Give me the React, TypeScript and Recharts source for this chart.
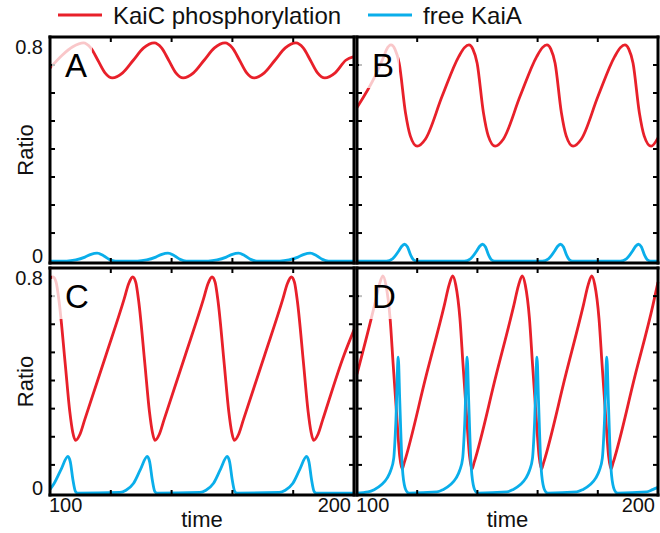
import React from 'react';
import { LineChart, Line, XAxis, YAxis } from 'recharts';

const FONT = '"Liberation Sans", Arial, Helvetica, sans-serif';

const seriesNames = ['KaiC phosphorylation', 'free KaiA'];
const seriesColors = ['#E8202A', '#0AAEEA'];
const panelLetters = ['A', 'B', 'C', 'D'];
const xTicks = [100, 120, 140, 160, 180, 200];
const xTickLabels = ['100', '', '', '', '', '200'];
const yTicks = [0, 0.1, 0.2, 0.3, 0.4, 0.5, 0.6, 0.7, 0.8];
const yTickLabels = ['0', '', '', '', '', '', '', '', '0.8'];
const xDomain = [100, 200];
const yDomain = [-0.007, 0.8];
const xTitle = 'time';
const yTitle = 'Ratio';

// Panel A
const aKaiCTime = [100, 104, 107.5, 111.0, 113.4, 115.75, 118.1, 120.5, 123.9, 127.4, 130.8, 134.3, 136.7, 139.05, 141.4, 143.8, 147.2, 150.7, 154.1, 157.6, 160.0, 162.35, 164.7, 167.1, 170.5, 174.0, 177.4, 180.9, 183.3, 185.65, 188.0, 190.4, 193.8, 197.3, 200];
const aKaiCValue = [0.689, 0.735, 0.765, 0.779, 0.761, 0.717, 0.672, 0.654, 0.672, 0.717, 0.761, 0.779, 0.761, 0.717, 0.672, 0.654, 0.672, 0.717, 0.761, 0.779, 0.761, 0.717, 0.672, 0.654, 0.672, 0.717, 0.761, 0.779, 0.761, 0.717, 0.672, 0.654, 0.672, 0.717, 0.73];
const aKaiATime = [100, 105.5, 108.5, 111.5, 113.5, 115.5, 117.5, 119.5, 121.5, 128.8, 131.8, 134.8, 136.8, 138.8, 140.8, 142.8, 144.8, 152.0, 155.0, 158.0, 160.0, 162.0, 164.0, 166.0, 168.0, 175.6, 178.6, 181.6, 183.6, 185.6, 187.6, 189.6, 191.6, 200];
const aKaiAValue = [0, 0, 0.004, 0.014, 0.024, 0.028, 0.02, 0.006, 0, 0, 0.004, 0.014, 0.024, 0.028, 0.02, 0.006, 0, 0, 0.004, 0.014, 0.024, 0.028, 0.02, 0.006, 0, 0, 0.004, 0.014, 0.024, 0.028, 0.02, 0.006, 0, 0];

// Panel B
const bKaiCTime = [100, 106.0, 108.9, 109.8, 111.3, 112.6, 114.0, 116.1, 117.7, 120.0, 122.7, 128.3, 133.8, 135.7, 137.2, 138.5, 139.9, 142.0, 143.6, 145.9, 148.6, 154.2, 159.7, 161.6, 163.1, 164.4, 165.8, 167.9, 169.5, 171.8, 174.5, 180.1, 185.6, 187.5, 189.0, 190.3, 191.7, 193.8, 195.4, 197.7, 200];
const bKaiCValue = [0.548, 0.66, 0.73, 0.755, 0.772, 0.757, 0.707, 0.53, 0.447, 0.41, 0.435, 0.589, 0.73, 0.762, 0.772, 0.757, 0.707, 0.53, 0.447, 0.41, 0.435, 0.589, 0.73, 0.762, 0.772, 0.757, 0.707, 0.53, 0.447, 0.41, 0.435, 0.589, 0.73, 0.762, 0.772, 0.757, 0.707, 0.53, 0.447, 0.41, 0.44];
const bKaiATime = [100, 109.8, 111.8, 113.8, 114.8, 115.8, 116.8, 117.8, 118.8, 119.8, 135.7, 137.7, 139.7, 140.7, 141.7, 142.7, 143.7, 144.7, 145.7, 161.6, 163.6, 165.6, 166.6, 167.6, 168.6, 169.6, 170.6, 171.6, 187.5, 189.5, 191.5, 192.5, 193.5, 194.5, 195.5, 196.5, 197.5, 200];
const bKaiAValue = [0, 0, 0.008, 0.035, 0.052, 0.06, 0.05, 0.022, 0.004, 0, 0, 0.008, 0.035, 0.052, 0.06, 0.05, 0.022, 0.004, 0, 0, 0.008, 0.035, 0.052, 0.06, 0.05, 0.022, 0.004, 0, 0, 0.008, 0.035, 0.052, 0.06, 0.05, 0.022, 0.004, 0, 0];

// Panel C
const cKaiCTime = [100, 101.0, 102.0, 103.0, 105.0, 106.5, 107.5, 108.4, 109.9, 111.4, 118.4, 124.4, 125.9, 127.2, 128.2, 129.2, 131.2, 132.7, 133.7, 134.5, 136.0, 137.5, 144.5, 150.5, 152.0, 153.3, 154.3, 155.3, 157.3, 158.8, 159.8, 160.6, 162.1, 163.6, 170.6, 176.6, 178.1, 179.4, 180.4, 181.4, 183.4, 184.9, 185.9, 186.7, 188.2, 189.7, 196.7, 200];
const cKaiCValue = [0.765, 0.768, 0.75, 0.68, 0.46, 0.29, 0.215, 0.187, 0.21, 0.26, 0.49, 0.69, 0.745, 0.768, 0.75, 0.68, 0.46, 0.29, 0.215, 0.187, 0.21, 0.26, 0.49, 0.69, 0.745, 0.768, 0.75, 0.68, 0.46, 0.29, 0.215, 0.187, 0.21, 0.26, 0.49, 0.69, 0.745, 0.768, 0.75, 0.68, 0.46, 0.29, 0.215, 0.187, 0.21, 0.26, 0.49, 0.58];
const cKaiATime = [100, 101.4, 103.7, 105.9, 106.7, 107.5, 108.4, 109.1, 123.0, 125.0, 127.5, 129.8, 132.0, 132.8, 133.6, 134.5, 135.2, 149.3, 151.3, 153.8, 156.1, 158.3, 159.1, 159.9, 160.8, 161.5, 175.4, 177.4, 179.9, 182.2, 184.4, 185.2, 186.0, 186.9, 187.6, 200];
const cKaiAValue = [0.013, 0.035, 0.085, 0.13, 0.11, 0.05, 0.005, 0, 0.002, 0.01, 0.035, 0.085, 0.13, 0.11, 0.05, 0.005, 0, 0.002, 0.01, 0.035, 0.085, 0.13, 0.11, 0.05, 0.005, 0, 0.002, 0.01, 0.035, 0.085, 0.13, 0.11, 0.05, 0.005, 0, 0];

// Panel D
const dKaiCTime = [100, 105.8, 107.4, 108.6, 109.6, 111.0, 112.0, 113.1, 114.2, 115.0, 115.7, 123.0, 129.0, 130.6, 131.8, 132.8, 134.2, 135.2, 136.3, 137.4, 138.2, 138.9, 146.2, 152.1, 153.7, 154.9, 155.9, 157.3, 158.3, 159.4, 160.5, 161.3, 162.0, 169.3, 175.2, 176.8, 178.0, 179.0, 180.4, 181.4, 182.5, 183.6, 184.4, 185.1, 192.4, 198.3, 200];
const dKaiCValue = [0.423, 0.667, 0.74, 0.772, 0.74, 0.62, 0.46, 0.29, 0.13, 0.085, 0.108, 0.418, 0.667, 0.74, 0.772, 0.74, 0.62, 0.46, 0.29, 0.13, 0.085, 0.108, 0.418, 0.667, 0.74, 0.772, 0.74, 0.62, 0.46, 0.29, 0.13, 0.085, 0.108, 0.418, 0.667, 0.74, 0.772, 0.74, 0.62, 0.46, 0.29, 0.13, 0.085, 0.108, 0.418, 0.667, 0.75];
const dKaiATime = [100, 103.7, 105.7, 108.2, 110.0, 111.2, 112.2, 112.9, 113.7, 114.2, 114.9, 115.7, 116.7, 117.3, 126.6, 128.6, 131.1, 132.9, 134.1, 135.1, 135.8, 136.6, 137.1, 137.8, 138.6, 139.6, 140.2, 149.8, 151.8, 154.3, 156.1, 157.3, 158.3, 159.0, 159.8, 160.3, 161.0, 161.8, 162.8, 163.4, 173.0, 175.0, 177.5, 179.3, 180.5, 181.5, 182.2, 183.0, 183.5, 184.2, 185.0, 186.0, 186.6, 196.2, 198.2, 200];
const dKaiAValue = [0, 0.004, 0.012, 0.03, 0.053, 0.08, 0.123, 0.25, 0.483, 0.33, 0.12, 0.03, 0.003, 0, 0.004, 0.012, 0.03, 0.053, 0.08, 0.123, 0.25, 0.483, 0.33, 0.12, 0.03, 0.003, 0, 0.004, 0.012, 0.03, 0.053, 0.08, 0.123, 0.25, 0.483, 0.33, 0.12, 0.03, 0.003, 0, 0.004, 0.012, 0.03, 0.053, 0.08, 0.123, 0.25, 0.483, 0.33, 0.12, 0.03, 0.003, 0, 0.004, 0.012, 0.02];

const toRows = (ts: number[], vs: number[]) => ts.map((t, i) => ({ t, v: vs[i] }));
const idxOf = (arr: number[], v: number) => arr.findIndex((a) => Math.abs(a - v) < 1e-6);

const AXIS_LINE = { stroke: '#000', strokeWidth: 3, strokeLinecap: 'square' as const };

type Geo = { chartLeft: number; chartTop: number; chartW: number; chartH: number; plotLeft: number; plotTop: number; plotW: number; plotH: number };

function Panel({ geo, letter, red, cyan, showY, showX }: { geo: Geo; letter: string; red: any[]; cyan: any[]; showY: boolean; showX: boolean }) {
  const ML = geo.plotLeft - geo.chartLeft;
  const MT = geo.plotTop - geo.chartTop;
  const MR = geo.chartLeft + geo.chartW - (geo.plotLeft + geo.plotW);
  const MB = geo.chartTop + geo.chartH - (geo.plotTop + geo.plotH);

  const leftTick = (p: any) => {
    const i = idxOf(yTicks, p.payload.value);
    const inner = i > 0 && i < yTicks.length - 1;
    const lbl = showY ? yTickLabels[i] : '';
    return (
      <g>
        {inner && <line x1={p.x} x2={p.x + 5} y1={p.y} y2={p.y} stroke="#000" strokeWidth={2} />}
        {lbl && (
          <text x={p.x - 7} y={i === yTicks.length - 1 ? p.y + 17 : p.y + 2} textAnchor="end" fontSize={20} fontFamily={FONT} fill="#111">
            {lbl}
          </text>
        )}
      </g>
    );
  };
  const rightTick = (p: any) => {
    const i = idxOf(yTicks, p.payload.value);
    const inner = i > 0 && i < yTicks.length - 1;
    return <g>{inner && <line x1={p.x} x2={p.x - 5} y1={p.y} y2={p.y} stroke="#000" strokeWidth={2} />}</g>;
  };
  const bottomTick = (p: any) => {
    const i = idxOf(xTicks, p.payload.value);
    const inner = i > 0 && i < xTicks.length - 1;
    const lbl = showX ? xTickLabels[i] : '';
    return (
      <g>
        {inner && <line x1={p.x} x2={p.x} y1={p.y} y2={p.y - 5} stroke="#000" strokeWidth={2} />}
        {lbl && (
          <text x={i === 0 ? p.x - 1 : p.x - 3} y={p.y + 17} textAnchor={i === 0 ? 'start' : 'end'} fontSize={20} fontFamily={FONT} fill="#111">
            {lbl}
          </text>
        )}
      </g>
    );
  };
  const topTick = (p: any) => {
    const i = idxOf(xTicks, p.payload.value);
    const inner = i > 0 && i < xTicks.length - 1;
    return <g>{inner && <line x1={p.x} x2={p.x} y1={p.y} y2={p.y + 5} stroke="#000" strokeWidth={2} />}</g>;
  };
  const timeLabel = (props: any) => {
    const vb = props.viewBox || {};
    if (!showX) return null;
    return (
      <text x={vb.x + vb.width / 2} y={vb.y + vb.height - 6} textAnchor="middle" fontSize={22} fontFamily={FONT} fill="#111">
        {xTitle}
      </text>
    );
  };
  const ratioLabel = (props: any) => {
    const vb = props.viewBox || {};
    if (!showY) return null;
    const cx = vb.x + vb.width / 2;
    const cy = vb.y + vb.height / 2;
    return (
      <text x={cx} y={cy} transform={`rotate(-90 ${cx} ${cy})`} textAnchor="middle" dominantBaseline="central" fontSize={22} fontFamily={FONT} fill="#111">
        {yTitle}
      </text>
    );
  };

  return (
    <div style={{ position: 'absolute', left: geo.chartLeft, top: geo.chartTop, width: geo.chartW, height: geo.chartH }}>
      <LineChart width={geo.chartW} height={geo.chartH} margin={{ top: 0, right: 0, bottom: 0, left: 0 }}>
        <Line xAxisId="bottom" yAxisId="left" data={red} dataKey="v" name={seriesNames[0]} type="monotone" stroke={seriesColors[0]} strokeWidth={2.8} dot={false} activeDot={false} isAnimationActive={false} />
        <Line xAxisId="top" yAxisId="right" data={cyan} dataKey="v" name={seriesNames[1]} type="monotone" stroke={seriesColors[1]} strokeWidth={2.8} dot={false} activeDot={false} isAnimationActive={false} />
        <XAxis xAxisId="bottom" orientation="bottom" type="number" dataKey="t" domain={xDomain} ticks={xTicks} interval={0} height={MB} tickSize={0} tickMargin={0} tickLine={false} axisLine={AXIS_LINE} tick={bottomTick} label={timeLabel} />
        <XAxis xAxisId="top" orientation="top" type="number" dataKey="t" domain={xDomain} ticks={xTicks} interval={0} height={MT} tickSize={0} tickMargin={0} tickLine={false} axisLine={AXIS_LINE} tick={topTick} />
        <YAxis yAxisId="left" orientation="left" type="number" domain={yDomain} ticks={yTicks} interval={0} width={ML} tickSize={0} tickMargin={0} tickLine={false} axisLine={AXIS_LINE} tick={leftTick} label={ratioLabel} />
        <YAxis yAxisId="right" orientation="right" type="number" domain={yDomain} ticks={yTicks} interval={0} width={MR} tickSize={0} tickMargin={0} tickLine={false} axisLine={AXIS_LINE} tick={rightTick} />
      </LineChart>
      <svg style={{ position: 'absolute', left: ML, top: MT, overflow: 'visible' }} width={50} height={55}>
        <rect x={2} y={3} width={40} height={48} fill="#fff" fillOpacity={0.75} />
        <text x={15} y={40} fontSize={33} fontFamily={FONT} fill="#000">
          {letter}
        </text>
      </svg>
    </div>
  );
}

const geoA: Geo = { chartLeft: 0, chartTop: 0, chartW: 356, chartH: 271, plotLeft: 50, plotTop: 37, plotW: 304, plotH: 226 };
const geoB: Geo = { chartLeft: 355, chartTop: 0, chartW: 305, chartH: 271, plotLeft: 357, plotTop: 37, plotW: 301, plotH: 226 };
const geoC: Geo = { chartLeft: 0, chartTop: 265, chartW: 356, chartH: 268, plotLeft: 50, plotTop: 268, plotW: 304, plotH: 227 };
const geoD: Geo = { chartLeft: 355, chartTop: 265, chartW: 305, chartH: 268, plotLeft: 357, plotTop: 268, plotW: 301, plotH: 227 };

export default function App() {
  return (
    <div style={{ position: 'absolute', left: 0, top: 0, width: 660, height: 533, background: '#fff', fontFamily: FONT }}>
      <Panel geo={geoA} letter={panelLetters[0]} red={toRows(aKaiCTime, aKaiCValue)} cyan={toRows(aKaiATime, aKaiAValue)} showY={true} showX={false} />
      <Panel geo={geoB} letter={panelLetters[1]} red={toRows(bKaiCTime, bKaiCValue)} cyan={toRows(bKaiATime, bKaiAValue)} showY={false} showX={false} />
      <Panel geo={geoC} letter={panelLetters[2]} red={toRows(cKaiCTime, cKaiCValue)} cyan={toRows(cKaiATime, cKaiAValue)} showY={true} showX={true} />
      <Panel geo={geoD} letter={panelLetters[3]} red={toRows(dKaiCTime, dKaiCValue)} cyan={toRows(dKaiATime, dKaiAValue)} showY={false} showX={true} />
      <svg style={{ position: 'absolute', left: 0, top: 0 }} width={660} height={32}>
        <line x1={58} x2={102} y1={15} y2={15} stroke={seriesColors[0]} strokeWidth={3} />
        <text x={113} y={24} fontSize={24} fontFamily={FONT} fill="#111">{seriesNames[0]}</text>
        <line x1={368} x2={412} y1={15} y2={15} stroke={seriesColors[1]} strokeWidth={3} />
        <text x={423} y={24} fontSize={24} fontFamily={FONT} fill="#111">{seriesNames[1]}</text>
      </svg>
    </div>
  );
}
